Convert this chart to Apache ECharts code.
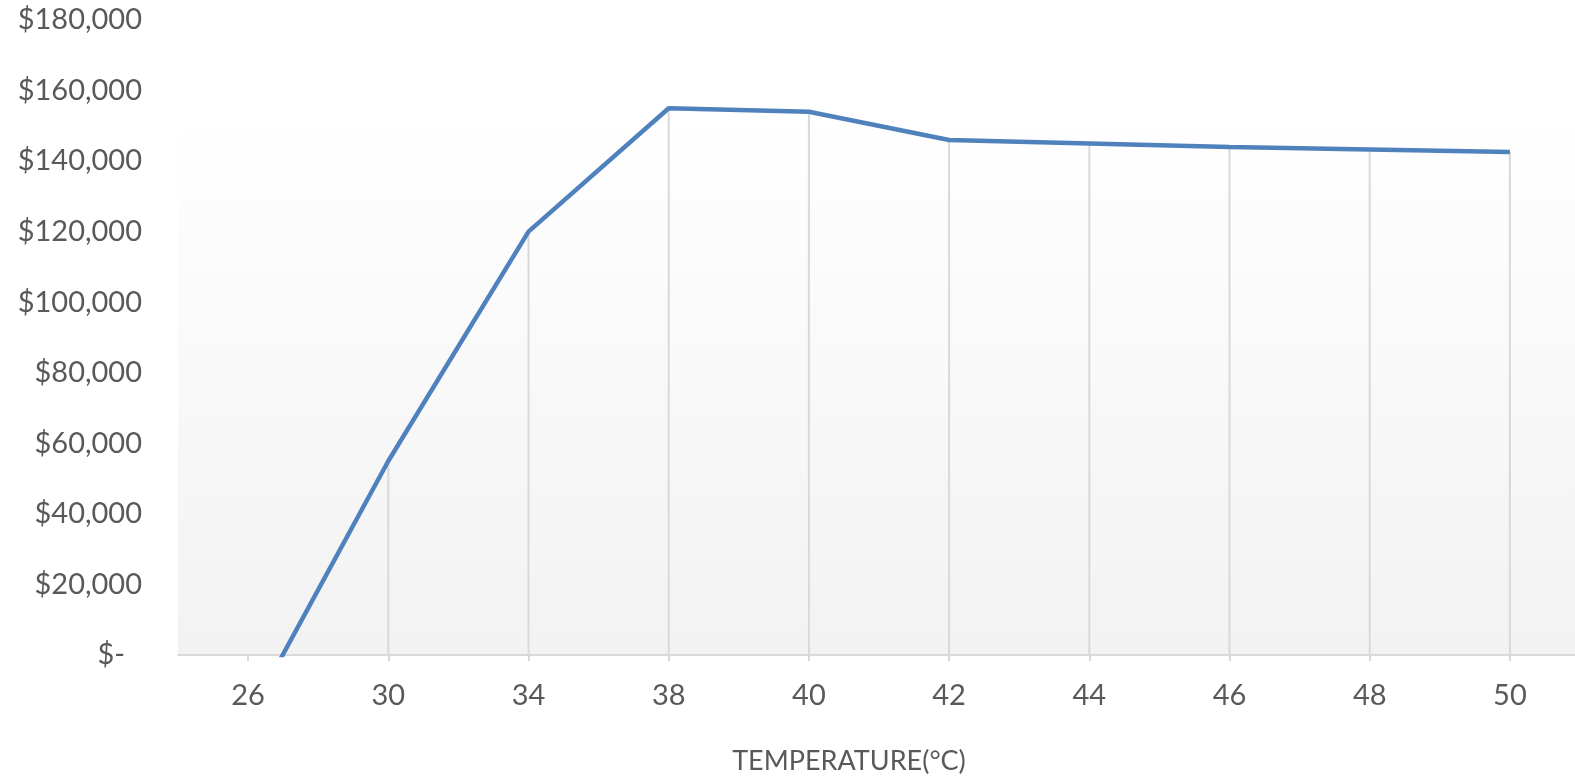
<!DOCTYPE html>
<html>
<head>
<meta charset="utf-8">
<script src="https://cdn.jsdelivr.net/npm/echarts@6/dist/echarts.min.js"></script>
<style>
html,body{margin:0;padding:0;background:#fff;}
#c{width:1575px;height:776px;}
</style>
</head>
<body>
<div id="c"></div>
<script>
const categories = ['26', '30', '34', '38', '40', '42', '44', '46', '48', '50'];
const profit = [-18000, 55000, 120000, 155000, 154000, 146000, 145000, 144000, 143300, 142600];
const yTicks = [0, 20000, 40000, 60000, 80000, 100000, 120000, 140000, 160000, 180000];
const xTitle = 'TEMPERATURE(°C)';

const FONT = 'Lato, "Liberation Sans", sans-serif';
const TXT = '#595959';
const chart = echarts.init(document.getElementById('c'));
chart.setOption({
  animation: false,
  grid: {
    left: 178, width: 1402, top: 20, bottom: 121, show: true, borderWidth: 0,
    outerBoundsMode: 'none', containLabel: false,
    backgroundColor: new echarts.graphic.LinearGradient(0, 0, 0, 1, [
      {offset: 0, color: '#ffffff'},
      {offset: 0.15, color: '#ffffff'},
      {offset: 1, color: '#f2f2f2'}
    ])
  },
  xAxis: {
    type: 'category',
    data: categories,
    boundaryGap: true,
    axisLine: {lineStyle: {color: '#d9d9d9', width: 2}},
    axisTick: {show: true, alignWithLabel: true, length: 6, lineStyle: {color: '#d9d9d9', width: 2}},
    axisLabel: {color: TXT, fontFamily: FONT, fontSize: 29, margin: 26},
    splitLine: {show: false}
  },
  yAxis: {
    type: 'value',
    min: yTicks[0],
    max: yTicks[yTicks.length - 1],
    interval: yTicks[1] - yTicks[0],
    axisLine: {show: false},
    axisTick: {show: false},
    splitLine: {show: false},
    axisLabel: {
      color: TXT, fontFamily: FONT, fontSize: 29, margin: 36,
      formatter: v => v === 0 ? '{z|$-}' : '$' + v.toLocaleString('en-US'),
      rich: {z: {color: TXT, fontFamily: FONT, fontSize: 29, padding: [0, 17, 0, 0]}}
    }
  },
  series: [
    {
      type: 'bar',
      data: profit.map(v => v > 0 ? v : null),
      barWidth: 2,
      itemStyle: {color: '#d9d9d9'},
      silent: true,
      z: 1
    },
    {
      type: 'line',
      data: profit,
      symbol: 'none',
      clip: true,
      lineStyle: {color: '#4f81bd', width: 4.5},
      z: 3
    }
  ],
  graphic: [{
    type: 'text',
    x: 849, y: 761,
    style: {text: xTitle, fill: TXT, font: '27px ' + FONT, textAlign: 'center', textVerticalAlign: 'middle'}
  }]
});
</script>
</body>
</html>
